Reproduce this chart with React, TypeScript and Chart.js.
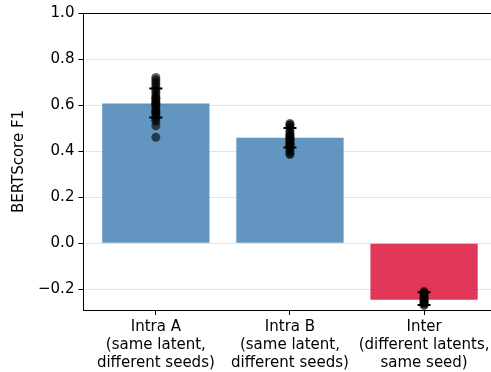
import React, { useEffect, useRef } from "react";
import { Chart, registerables } from "chart.js";

Chart.register(...registerables);

const categoryLines: string[][] = [
  ["Intra A", "(same latent,", "different seeds)"],
  ["Intra B", "(same latent,", "different seeds)"],
  ["Inter", "(different latents,", "same seed)"],
];
const barValues = [0.607, 0.458, -0.245];
const errLower = [0.546, 0.416, -0.268];
const errUpper = [0.672, 0.501, -0.213];
const pointsIntraA = [0.72, 0.71, 0.7, 0.69, 0.68, 0.67, 0.66, 0.65, 0.64, 0.63, 0.63, 0.62, 0.61, 0.61, 0.6, 0.6, 0.59, 0.58, 0.57, 0.57, 0.56, 0.55, 0.54, 0.53, 0.51, 0.46];
const pointsIntraB = [0.52, 0.515, 0.51, 0.5, 0.49, 0.48, 0.47, 0.47, 0.46, 0.46, 0.45, 0.45, 0.44, 0.44, 0.43, 0.43, 0.42, 0.42, 0.41, 0.4, 0.39, 0.385];
const pointsInter = [-0.21, -0.215, -0.22, -0.23, -0.235, -0.24, -0.245, -0.25, -0.255, -0.26, -0.265, -0.27];
const yTicks = [-0.2, 0, 0.2, 0.4, 0.6, 0.8, 1.0];
const yMin = -0.29;
const yMax = 1.0;
const xMin = -0.54;
const xMax = 2.54;

const errorBarPlugin = {
  id: "errorBars",
  afterDatasetsDraw(chart: any) {
    const ctx = chart.ctx;
    const x = chart.scales.x;
    const y = chart.scales.y;
    const a = chart.chartArea;
    ctx.save();
    ctx.strokeStyle = "#000";
    ctx.lineWidth = 2;
    for (let i = 0; i < barValues.length; i++) {
      const px = x.getPixelForValue(i);
      const yl = y.getPixelForValue(errLower[i]);
      const yu = y.getPixelForValue(errUpper[i]);
      ctx.beginPath();
      ctx.moveTo(px, yl);
      ctx.lineTo(px, yu);
      ctx.moveTo(px - 6.5, yl);
      ctx.lineTo(px + 6.5, yl);
      ctx.moveTo(px - 6.5, yu);
      ctx.lineTo(px + 6.5, yu);
      ctx.stroke();
    }
    // top and right spines
    ctx.lineWidth = 1;
    ctx.beginPath();
    ctx.moveTo(a.left, Math.round(a.top) + 0.5);
    ctx.lineTo(a.right, Math.round(a.top) + 0.5);
    ctx.lineTo(a.right, a.bottom);
    ctx.stroke();
    ctx.restore();
  },
};

export default function App() {
  const ref = useRef<HTMLCanvasElement | null>(null);
  useEffect(() => {
    if (!ref.current) return;
    const pts = [
      ...pointsIntraA.map((v) => ({ x: 0, y: v })),
      ...pointsIntraB.map((v) => ({ x: 1, y: v })),
      ...pointsInter.map((v) => ({ x: 2, y: v })),
    ];
    const font = { family: "'DejaVu Sans'", size: 15 };
    const chart = new Chart(ref.current, {
      type: "bar",
      data: {
        datasets: [
          {
            type: "bar",
            data: barValues.map((v, i) => ({ x: i, y: v })),
            backgroundColor: ["rgba(70,130,180,0.85)", "rgba(70,130,180,0.85)", "rgba(220,20,60,0.85)"],
            barPercentage: 0.8,
            categoryPercentage: 1,
            grouped: false,
            order: 2,
          } as any,
          {
            type: "line",
            data: pts as any,
            showLine: false,
            pointRadius: 4.5,
            pointBackgroundColor: "rgba(0,0,0,0.6)",
            pointBorderWidth: 0,
            pointBorderColor: "rgba(0,0,0,0)",
            order: 1,
          } as any,
        ],
      },
      options: {
        responsive: false,
        animation: false,
        events: [],
        layout: { padding: { top: 10, right: 1, left: 10, bottom: 0 } },
        plugins: { legend: { display: false }, tooltip: { enabled: false } },
        scales: {
          x: {
            type: "linear",
            min: xMin,
            max: xMax,
            offset: false,
            afterBuildTicks: (axis: any) => {
              axis.ticks = categoryLines.map((_, i) => ({ value: i }));
            },
            grid: { display: true, drawOnChartArea: false, offset: false, tickLength: 5, tickColor: "#000", tickWidth: 1 },
            border: { display: true, color: "#000", width: 1 },
            ticks: {
              color: "#000",
              font,
              padding: 3,
              maxRotation: 0,
              autoSkip: false,
              callback: (v: any) => categoryLines[Math.round(Number(v))] ?? "",
            },
            afterFit: (axis: any) => {
              axis.paddingRight = 0;
              axis.paddingLeft = 0;
            },
          },
          y: {
            min: yMin,
            max: yMax,
            afterBuildTicks: (axis: any) => {
              axis.ticks = yTicks.map((v) => ({ value: v }));
            },
            grid: { color: "#e3e3e3", tickLength: 5, tickColor: "#000", tickWidth: 1 },
            border: { display: true, color: "#000", width: 1 },
            ticks: {
              color: "#000",
              font,
              padding: 4,
              callback: (v: any) => Number(v).toFixed(1).replace("-", "\u2212"),
            },
            title: { display: true, text: "BERTScore F1", color: "#000", font, padding: { top: 0, bottom: 6 } },
          },
        },
      },
      plugins: [errorBarPlugin],
    } as any);
    return () => chart.destroy();
  }, []);
  return (
    <div style={{ position: "fixed", left: 0, top: 0, width: 491, height: 372, background: "#fff", overflow: "hidden" }}>
      <canvas ref={ref} width={501} height={375} style={{ display: "block" }} />
    </div>
  );
}
